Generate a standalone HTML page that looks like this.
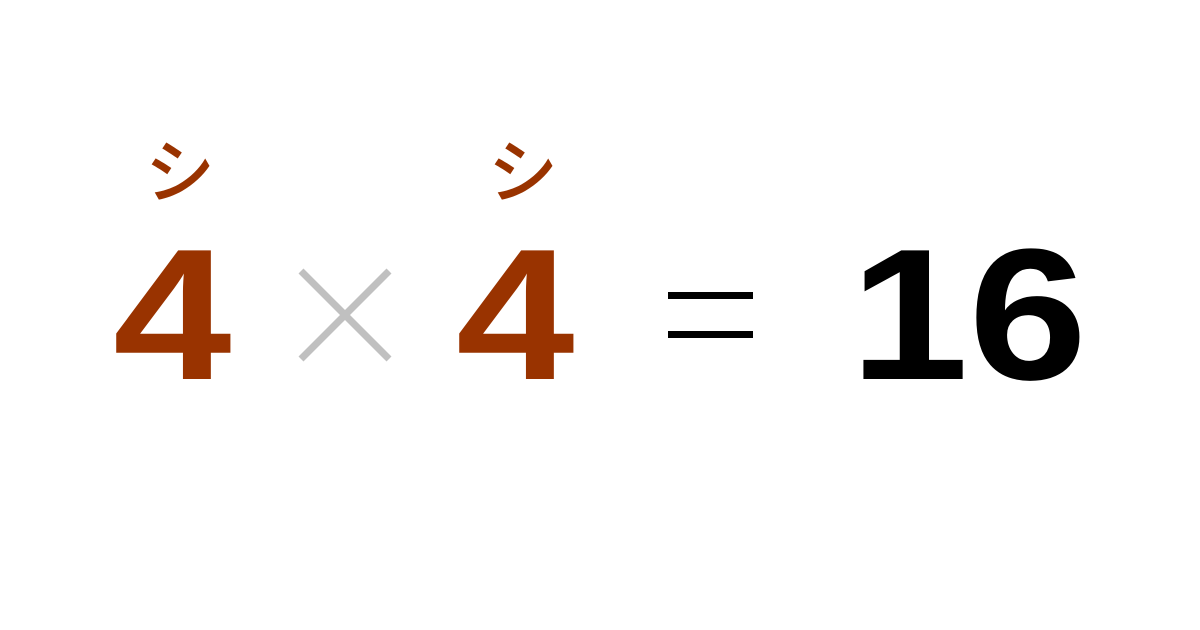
<!DOCTYPE html>
<html>
<head>
<meta charset="utf-8">
<style>
  html, body { margin: 0; padding: 0; background: #fff; }
  #stage { position: relative; width: 1200px; height: 630px; overflow: hidden; background: #fff; }
  .num { position: absolute; font-family: "Liberation Sans", sans-serif; font-weight: bold; font-size: 187px; line-height: 1; white-space: nowrap; transform: scaleX(1.14); transform-origin: left top; }
  .red { color: #993300; }
  .kana { position: absolute; font-family: "Liberation Sans", "Noto Sans CJK JP", sans-serif; font-weight: 500; font-size: 70px; line-height: 1; color: #993300; }
</style>
</head>
<body>
<div id="stage">
  <div class="kana" style="left:145px; top:138px;">シ</div>
  <div class="kana" style="left:488px; top:138px;">シ</div>
  <div class="num red" style="left:113px; top:221px;">4</div>
  <svg style="position:absolute; left:0; top:0;" width="1200" height="630">
    <line x1="301" y1="271" x2="389" y2="359" stroke="#c0c0c0" stroke-width="7"/>
    <line x1="389" y1="271" x2="301" y2="359" stroke="#c0c0c0" stroke-width="7"/>
    <rect x="668" y="292" width="85" height="7" fill="#000"/>
    <rect x="668" y="331" width="85" height="7" fill="#000"/>
  </svg>
  <div class="num red" style="left:456px; top:221px;">4</div>
  <div class="num" style="left:850px; top:221px; color:#000;">16</div>
</div>
</body>
</html>
